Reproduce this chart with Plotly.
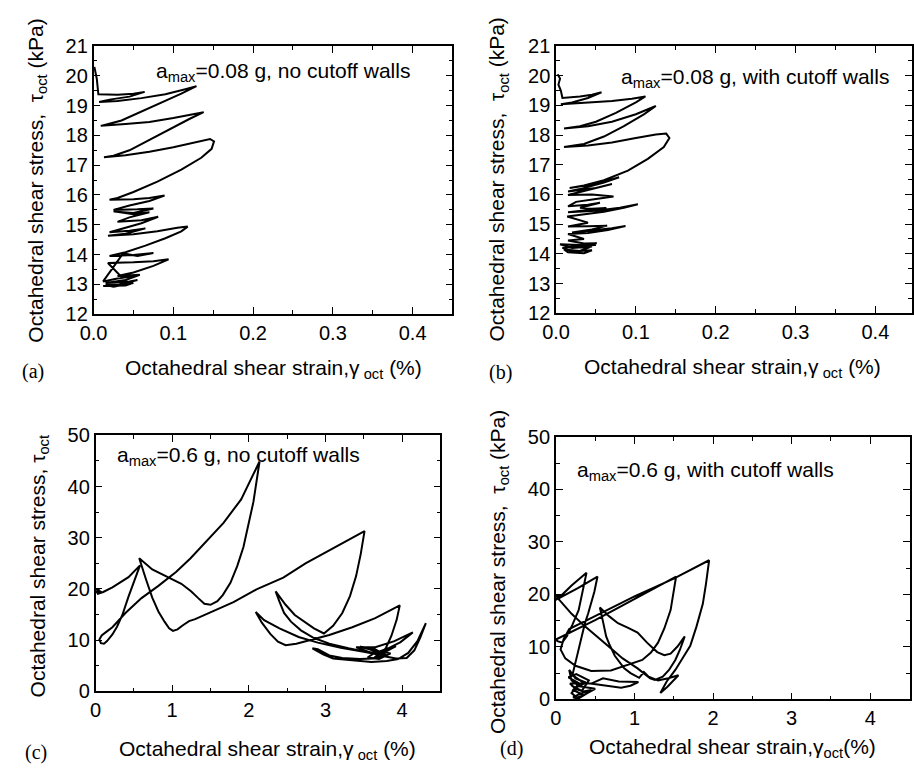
import plotly.graph_objects as go

# ---------------- data: octahedral shear strain (%) vs stress (kPa) ----------------
a_strain = [0.001, 0.004, 0.006, 0.03, 0.05, 0.064, 0.045, 0.02, 0.007, 0.03, 0.06, 0.09, 0.115, 0.129,
            0.11, 0.085, 0.06, 0.035, 0.015, 0.009, 0.04, 0.07, 0.1, 0.125, 0.138,
            0.12, 0.095, 0.07, 0.045, 0.025, 0.013, 0.04, 0.07, 0.1, 0.13, 0.146, 0.151, 0.148, 0.135,
            0.11, 0.08, 0.05, 0.03, 0.02, 0.05, 0.07, 0.089, 0.07, 0.045, 0.025, 0.055, 0.075, 0.05,
            0.025, 0.05, 0.07, 0.045, 0.03, 0.06, 0.081, 0.06, 0.04, 0.02, 0.045, 0.065, 0.04, 0.018,
            0.05, 0.08, 0.105, 0.118, 0.11, 0.09, 0.065, 0.04, 0.02, 0.05, 0.075, 0.055, 0.037, 0.025,
            0.012, 0.03, 0.055, 0.035, 0.018, 0.05, 0.075, 0.094, 0.075, 0.05, 0.03, 0.058, 0.04, 0.015,
            0.045, 0.055, 0.03, 0.012, 0.04, 0.05, 0.025, 0.015, 0.04, 0.03]
a_stress = [20.3, 19.9, 19.38, 19.36, 19.4, 19.46, 19.3, 19.2, 19.12, 19.15, 19.25, 19.38, 19.55, 19.65,
            19.4, 19.1, 18.78, 18.5, 18.36, 18.32, 18.38, 18.45, 18.58, 18.72, 18.78,
            18.55, 18.2, 17.85, 17.5, 17.32, 17.27, 17.33, 17.45, 17.6, 17.78, 17.88, 17.8, 17.55, 17.25,
            16.85, 16.45, 16.1, 15.9, 15.84, 15.86, 15.9, 15.98, 15.8, 15.65, 15.5, 15.52, 15.55, 15.4,
            15.45, 15.35, 15.42, 15.25, 15.1, 15.15, 15.27, 15.05, 14.9, 14.75, 14.8, 14.88, 14.7, 14.63,
            14.68, 14.78, 14.9, 14.94, 14.78, 14.55, 14.3, 14.08, 13.95, 13.99, 14.05, 13.95, 14.04, 13.6,
            13.1, 13.2, 13.3, 13.25, 13.72, 13.74, 13.78, 13.84, 13.62, 13.4, 13.28, 13.32, 13.15, 13.05,
            13.1, 13.15, 12.98, 12.95, 12.96, 13.05, 12.92, 12.98, 13.0, 12.95]

b_strain = [0.002, 0.005, 0.003, 0.006, 0.008, 0.03, 0.045, 0.057, 0.04, 0.02, 0.006, 0.04, 0.07, 0.095,
            0.112, 0.1, 0.075, 0.05, 0.03, 0.01, 0.04, 0.07, 0.1, 0.125, 0.11, 0.085, 0.06, 0.035, 0.01,
            0.04, 0.07, 0.1, 0.125, 0.138, 0.142, 0.135, 0.115, 0.09, 0.06, 0.035, 0.017, 0.05, 0.079,
            0.06, 0.03, 0.015, 0.05, 0.07, 0.04, 0.015, 0.045, 0.072, 0.05, 0.025, 0.015, 0.04, 0.055,
            0.03, 0.045, 0.063, 0.04, 0.015, 0.05, 0.08, 0.1025, 0.085, 0.06, 0.03, 0.014, 0.04, 0.015,
            0.04, 0.064, 0.045, 0.02, 0.05, 0.07, 0.087, 0.065, 0.04, 0.015, 0.035, 0.015, 0.035, 0.051,
            0.03, 0.005, 0.02, 0.045, 0.03, 0.01, 0.015, 0.035, 0.045, 0.02, 0.008, 0.03, 0.05]
b_stress = [20.05, 19.9, 19.7, 19.5, 19.25, 19.3, 19.36, 19.44, 19.25, 19.1, 19.04, 19.1, 19.15, 19.22,
            19.3, 19.1, 18.75, 18.45, 18.3, 18.22, 18.3, 18.45, 18.7, 18.98, 18.7, 18.3, 17.95, 17.7, 17.6,
            17.65, 17.75, 17.9, 18.02, 18.05, 17.9, 17.6, 17.2, 16.8, 16.48, 16.3, 16.22, 16.35, 16.58,
            16.4, 16.18, 16.1, 16.22, 16.35, 16.15, 15.98, 16.0, 15.93, 15.85, 15.75, 15.6, 15.65, 15.72,
            15.55, 15.52, 15.54, 15.48, 15.4, 15.45, 15.55, 15.67, 15.55, 15.42, 15.3, 15.26, 15.05, 14.92,
            14.93, 14.95, 14.82, 14.72, 14.8, 14.86, 14.94, 14.8, 14.7, 14.67, 14.5, 14.45, 14.35, 14.36,
            14.3, 14.32, 14.2, 14.25, 14.1, 14.15, 14.05, 14.02, 14.12, 14.08, 14.2, 14.28, 14.3]

c_strain = [0.0, 0.05, 0.0, 0.06, 0.02, 0.1, 0.22, 0.43, 0.58,
            0.5, 0.43, 0.35, 0.28, 0.22, 0.15, 0.11, 0.07, 0.05, 0.08, 0.14, 0.22, 0.39, 0.6, 0.82, 1.05,
            1.24, 1.45, 1.67, 1.9, 2.14,
            2.06, 1.98, 1.93, 1.85, 1.76, 1.66, 1.59, 1.5, 1.42, 1.34, 1.25, 1.12, 0.94, 0.74, 0.57,
            0.61, 0.66, 0.74, 0.82, 0.9, 0.96, 1.01, 1.07, 1.14, 1.22, 1.3, 1.46, 1.8, 2.1, 2.45, 2.74,
            3.1, 3.51,
            3.46, 3.4, 3.32, 3.22, 3.1, 2.98,
            2.85, 2.72, 2.6, 2.48, 2.35,
            2.4, 2.46, 2.55, 2.68, 2.85, 3.05, 3.3, 3.55, 3.72,
            3.5, 3.2, 2.9, 2.65, 2.4, 2.2, 2.09,
            2.17, 2.28, 2.38, 2.48, 2.62, 2.85, 3.05, 3.35, 3.65, 3.97,
            3.93, 3.86, 3.79, 3.72, 3.62, 3.45, 3.22, 3.05, 2.96, 2.9, 2.83,
            2.97, 3.1, 3.35, 3.6, 3.8, 3.95, 4.08, 4.2, 4.31,
            4.24, 4.16, 4.06, 3.92, 3.75, 3.55, 3.4,
            3.65, 3.9, 4.14, 3.98, 3.82, 3.62, 3.55, 3.7, 3.85, 3.65, 3.45, 3.62, 3.8, 3.64, 3.72, 3.92,
            3.72, 3.58, 3.76]
c_stress = [19.3, 19.8, 20.0, 19.5, 19.0, 19.4, 20.3, 22.3, 24.6,
            21.5, 18.5, 14.9, 12.6, 11.1, 9.8, 9.3, 9.4, 10.1, 10.9, 11.6, 12.5, 15.3, 18.2, 20.6, 23.3,
            26.0, 29.3, 32.9, 37.5, 44.9,
            37.0, 31.5, 28.2, 24.5, 21.2, 18.8, 17.6, 16.9, 17.1, 18.2, 19.5, 21.0, 22.3, 23.8, 26.0,
            24.0, 21.8, 18.3, 15.6, 13.6, 12.3, 11.8, 12.1, 12.9, 13.7, 14.1, 15.2, 17.4, 19.9, 22.2, 25.0,
            27.9, 31.3,
            26.8, 22.5, 18.6, 15.3, 12.8, 11.3,
            12.3, 13.6, 14.9, 16.9, 19.5,
            17.5, 15.3, 13.6, 11.9, 10.4, 9.3, 8.4, 7.6, 7.1,
            7.7, 8.5, 9.5, 10.6, 12.3, 13.9, 15.5,
            13.4, 11.2, 9.7, 9.0, 9.3, 10.2, 11.0, 12.5, 14.3, 16.8,
            14.0, 10.8, 8.5, 7.2, 6.4, 6.3, 6.5, 7.0, 7.7, 8.2, 8.4,
            7.2, 6.4, 6.0, 5.7, 5.9, 6.3, 7.5, 9.8, 13.3,
            10.6, 8.0, 6.5, 6.4, 6.9, 7.8, 8.6,
            8.6, 9.8, 11.5, 9.6, 8.4, 7.3, 6.6, 6.3, 7.4, 7.9, 8.7, 8.4, 7.0, 6.6, 7.6, 8.8,
            7.2, 8.2, 6.9]

d_strain = [0.02, 0.0, 0.06, 0.01, 0.03, 0.2, 0.39,
            0.34, 0.29, 0.21, 0.14, 0.08, 0.02, 0.0,
            0.25, 0.5, 0.75, 1.0, 1.27, 1.53,
            1.46, 1.38, 1.3, 1.21, 1.1, 1.02,
            0.9, 0.7, 0.45, 0.25, 0.12, 0.06, 0.1, 0.17,
            0.6, 1.0, 1.5, 1.95,
            1.91, 1.87, 1.79, 1.71, 1.62, 1.52, 1.41, 1.33,
            1.42, 1.5, 1.56, 1.43, 1.3, 1.18, 1.12, 1.06,
            0.95, 0.87, 0.75, 0.68, 0.64, 0.6, 0.56,
            0.68, 0.79, 0.92, 1.04, 1.16, 1.29, 1.38, 1.46, 1.55, 1.64,
            1.58, 1.52, 1.44, 1.36, 1.26, 1.2,
            1.04, 0.85, 0.71, 0.55, 0.37, 0.2, 0.03,
            0.28, 0.53,
            0.49, 0.46, 0.41, 0.37, 0.33, 0.31, 0.28, 0.25, 0.21,
            0.35, 0.55, 0.7, 0.83, 0.95, 1.05, 0.8, 0.6, 0.45,
            0.18, 0.25, 0.35, 0.45, 0.3, 0.22, 0.28, 0.4, 0.5, 0.3, 0.2, 0.17, 0.25, 0.38, 0.25, 0.2,
            0.27, 0.35, 0.22, 0.3, 0.16, 0.26, 0.42, 0.33, 0.2]
d_stress = [19.4, 18.9, 19.8, 19.7, 19.2, 21.7, 24.1,
            20.5, 17.0, 14.2, 12.0, 10.8, 11.1, 11.4,
            13.2, 15.1, 17.1, 19.1, 21.2, 23.4,
            17.0, 13.5, 10.8, 8.9, 7.5, 7.1,
            6.4, 5.5, 5.4, 6.4, 7.8, 9.5, 11.5, 13.4,
            16.6, 19.6, 23.0, 26.5,
            22.0, 18.2, 13.9, 10.2, 8.0, 5.6, 3.4, 1.2,
            2.4, 3.6, 4.6, 4.0, 3.6, 4.3, 5.2, 4.1,
            5.0, 5.9, 8.3, 10.5, 12.0, 14.8, 17.5,
            15.8, 14.5, 13.6, 12.7, 10.8, 9.0, 8.4, 8.7, 10.1, 12.0,
            9.5, 7.5, 5.6, 4.3, 3.7, 4.0,
            5.9, 7.8, 9.6, 11.6, 13.9, 16.3, 19.2,
            21.2, 23.4,
            20.5, 18.8, 16.3, 14.5, 12.3, 10.8, 8.9, 7.1, 4.6,
            3.2, 2.8, 2.4, 2.2, 2.6, 3.3, 3.4, 4.0, 3.0,
            3.0, 2.0, 1.5, 1.8, 1.0, 0.4, 0.1, 1.2, 2.0, 2.5, 3.6, 5.6, 4.0, 3.2, 2.2, 1.2,
            0.3, 0.8, 1.8, 3.0, 4.2, 4.8, 3.6, 1.6, 2.6]

small_ticks = [0.0, 0.1, 0.2, 0.3, 0.4]
large_ticks = [0, 1, 2, 3, 4]
panel_titles = ["a<sub>max</sub>=0.08 g, no cutoff walls",
                "a<sub>max</sub>=0.08 g, with cutoff walls",
                "a<sub>max</sub>=0.6 g, no cutoff walls",
                "a<sub>max</sub>=0.6 g, with cutoff walls"]
panel_tags = ["(a)", "(b)", "(c)", "(d)"]

# ---------------- layout helpers ----------------
W, H = 914, 780
SANS = "Liberation Sans, Arial, Helvetica, sans-serif"
SERIF = "Liberation Serif, Times New Roman, serif"


def px(x):
    return x / W


def py(y):
    return 1 - y / H


def axis(domain, rng, ticks, minor_dtick, anchor, fmt=None):
    d = dict(domain=domain, range=rng, anchor=anchor, tickmode="array", tickvals=ticks,
             showline=True, linecolor="black", linewidth=1.5, mirror="allticks",
             ticks="inside", ticklen=7, tickwidth=1.3, tickcolor="black",
             showgrid=False, zeroline=False,
             tickfont=dict(family=SANS, size=20, color="black"),
             minor=dict(dtick=minor_dtick, tick0=0, ticks="inside", ticklen=4,
                        tickwidth=1.2, tickcolor="black", showgrid=False))
    if fmt:
        d["tickformat"] = fmt
    return d


fig = go.Figure()
series = [(a_strain, a_stress, "x", "y"), (b_strain, b_stress, "x2", "y2"),
          (c_strain, c_stress, "x3", "y3"), (d_strain, d_stress, "x4", "y4")]
for xs, ys, xa, ya in series:
    fig.add_trace(go.Scatter(x=xs, y=ys, xaxis=xa, yaxis=ya, mode="lines",
                             line=dict(color="black", width=2), showlegend=False))

stress_small = list(range(12, 22))
stress_large = list(range(0, 51, 10))

fig.update_layout(
    width=W, height=H, margin=dict(l=0, r=0, t=0, b=0),
    paper_bgcolor="white", plot_bgcolor="white",
    xaxis=axis([px(81), px(446.3)], [0, 0.45], small_ticks, 0.05, "y", ".1f"),
    yaxis=axis([py(312), py(36)], [12, 21], stress_small, 0.5, "x"),
    xaxis2=axis([px(551.7), 1.0], [0, 0.4459], small_ticks, 0.05, "y2", ".1f"),
    yaxis2=axis([py(311), py(36)], [12, 21], stress_small, 0.5, "x2"),
    xaxis3=axis([px(83), px(434)], [0, 4.5], large_ticks, 0.5, "y3"),
    yaxis3=axis([py(700), py(436.7)], [0, 50], stress_large, 5, "x3"),
    xaxis4=axis([px(551.5), px(911.5)], [0, 4.5], large_ticks, 0.5, "y4"),
    yaxis4=axis([py(708.3), py(438.3)], [0, 50], stress_large, 5, "x4"),
)

ann = []


def text(x, y, s, size=21, family=SANS, angle=0, xanchor="center"):
    ann.append(dict(x=px(x), y=py(y), xref="paper", yref="paper", text=s, showarrow=False,
                    textangle=angle, xanchor=xanchor, yanchor="middle",
                    font=dict(family=family, size=size, color="black")))


# axis titles
text(264, 368, "Octahedral shear strain,γ<sub> oct</sub> (%)")
text(731, 367, "Octahedral shear strain,γ<sub> oct</sub> (%)")
text(258, 760, "Octahedral shear strain,γ<sub> oct</sub> (%)")
text(731, 758, "Octahedral shear strain,γ<sub>oct</sub>(%)")
text(23, 175, "Octahedral shear stress,  τ<sub>oct</sub> (kPa)", angle=-90)
text(493, 173, "Octahedral shear stress,  τ<sub>oct</sub> (kPa)", angle=-90)
text(25, 571, "Octahedral shear stress, τ<sub>oct</sub>", angle=-90)
text(493, 577, "Octahedral shear stress,  τ<sub>oct</sub> (kPa)", angle=-90)

# in-plot captions
text(142, 63, panel_titles[0], xanchor="left")
text(616, 69, panel_titles[1], xanchor="left")
text(103, 458, panel_titles[2], xanchor="left")
text(571, 473, panel_titles[3], xanchor="left")

# panel tags
text(19, 371, panel_tags[0], size=20, family=SERIF)
text(495, 372, panel_tags[1], size=20, family=SERIF)
text(22, 763, panel_tags[2], size=20, family=SERIF)
text(506, 759, panel_tags[3], size=20, family=SERIF)

fig.update_layout(annotations=ann)
fig.write_html("out.html")
